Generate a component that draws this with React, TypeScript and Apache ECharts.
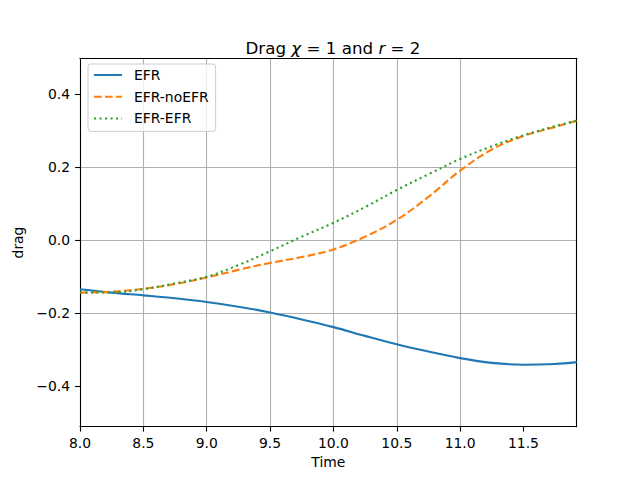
import React, { useEffect, useRef } from "react";
import * as echarts from "echarts";

const timeValues = [8.0, 8.25, 8.5, 8.75, 9.0, 9.25, 9.5, 9.75, 10.0, 10.25, 10.5, 10.75, 11.0, 11.25, 11.5, 11.75, 11.92];
const efr = [-0.134, -0.1435, -0.151, -0.159, -0.169, -0.182, -0.198, -0.217, -0.238, -0.262, -0.285, -0.305, -0.323, -0.336, -0.341, -0.339, -0.334];
const efrNoEfr = [-0.1435, -0.141, -0.133, -0.12, -0.102, -0.081, -0.062, -0.046, -0.025, 0.01, 0.056, 0.119, 0.191, 0.249, 0.286, 0.311, 0.328];
const efrEfr = [-0.143, -0.143, -0.134, -0.118, -0.1, -0.068, -0.03, 0.01, 0.048, 0.091, 0.138, 0.181, 0.223, 0.258, 0.288, 0.313, 0.328];
const xTicks = [8.0, 8.5, 9.0, 9.5, 10.0, 10.5, 11.0, 11.5];
const yTicks = [-0.4, -0.2, 0.0, 0.2, 0.4];

const FONT = "DejaVu Sans";
const X_MIN = 8.0;
const X_MAX = 11.92;
const Y_MIN = -0.511;
const Y_MAX = 0.499;

const pairs = (ys: number[]) => timeValues.map((t, i) => [t, ys[i]]);
const fmt = (v: number) => v.toFixed(1).replace("-", "\u2212");

export default function App() {
  const ref = useRef<HTMLDivElement>(null);
  useEffect(() => {
    if (!ref.current) return;
    const chart = echarts.init(ref.current, null, { renderer: "svg" });
    const frameAxis = {
      axisLine: { show: true, onZero: false, lineStyle: { color: "#000", width: 1.1 } },
      axisTick: { show: false },
      axisLabel: { show: false },
      splitLine: { show: false },
    };
    const lineSeries = (name: string, ys: number[], color: string, type: any) => ({
      name,
      type: "line",
      data: pairs(ys),
      smooth: 0.35,
      symbol: "none",
      showSymbol: false,
      color,
      lineStyle: { color, width: 2.1, type, cap: "butt" },
    });
    chart.setOption({
      animation: false,
      backgroundColor: "#fff",
      textStyle: { fontFamily: FONT },
      title: {
        text: "Drag {i|\u03c7} = 1 and {i|r} = 2",
        left: 328,
        top: 34,
        textAlign: "center",
        textStyle: {
          fontFamily: FONT,
          fontSize: 16.7,
          fontWeight: "normal",
          color: "#000",
          rich: { i: { fontFamily: FONT, fontSize: 16.7, fontStyle: "italic", color: "#000" } },
        },
      },
      legend: {
        orient: "vertical",
        left: 88,
        top: 64,
        itemWidth: 28,
        itemHeight: 14,
        itemGap: 7.7,
        padding: [4, 7, 6, 5],
        backgroundColor: "rgba(255,255,255,0.8)",
        borderColor: "#cccccc",
        borderWidth: 1,
        borderRadius: 3,
        itemStyle: { opacity: 0 },
        textStyle: { fontFamily: FONT, fontSize: 13.9, color: "#000", padding: [0, 0, 0, 7] },
        data: ["EFR", "EFR-noEFR", "EFR-EFR"],
      },
      grid: { left: 80, right: 63.3, top: 58.3, bottom: 53.3, containLabel: false },
      xAxis: [
        {
          type: "value",
          min: X_MIN,
          max: X_MAX,
          name: "Time",
          nameLocation: "middle",
          nameGap: 27,
          nameTextStyle: { fontFamily: FONT, fontSize: 13.9, color: "#000" },
          axisLine: { show: true, onZero: false, lineStyle: { color: "#000", width: 1.1 } },
          axisTick: { show: true, inside: false, length: 4.9, lineStyle: { color: "#000", width: 1.1 }, customValues: xTicks },
          axisLabel: { show: true, margin: 9, fontFamily: FONT, fontSize: 13.9, color: "#000", customValues: xTicks, formatter: (v: number) => fmt(v) },
          splitLine: { show: true, showMinLine: false, showMaxLine: false, lineStyle: { color: "#b0b0b0", width: 1.1 } },
        },
        { type: "value", position: "top", min: X_MIN, max: X_MAX, ...frameAxis },
      ],
      yAxis: [
        {
          type: "value",
          min: Y_MIN,
          max: Y_MAX,
          name: "drag",
          nameLocation: "middle",
          nameGap: 49,
          nameRotate: 90,
          nameTextStyle: { fontFamily: FONT, fontSize: 13.9, color: "#000" },
          axisLine: { show: true, onZero: false, lineStyle: { color: "#000", width: 1.1 } },
          axisTick: { show: true, inside: false, length: 4.9, lineStyle: { color: "#000", width: 1.1 }, customValues: yTicks },
          axisLabel: { show: true, margin: 10, fontFamily: FONT, fontSize: 13.9, color: "#000", customValues: yTicks, formatter: (v: number) => fmt(v) },
          splitLine: { show: true, showMinLine: false, showMaxLine: false, lineStyle: { color: "#b0b0b0", width: 1.1 } },
        },
        { type: "value", position: "right", min: Y_MIN, max: Y_MAX, ...frameAxis },
      ],
      series: [
        lineSeries("EFR", efr, "#1f77b4", "solid"),
        lineSeries("EFR-noEFR", efrNoEfr, "#ff7f0e", [7.7, 3.3]),
        lineSeries("EFR-EFR", efrEfr, "#2ca02c", [2.1, 3.4]),
      ],
    });
    return () => chart.dispose();
  }, []);
  return <div ref={ref} style={{ position: "absolute", left: 0, top: 0, width: 640, height: 480 }} />;
}
